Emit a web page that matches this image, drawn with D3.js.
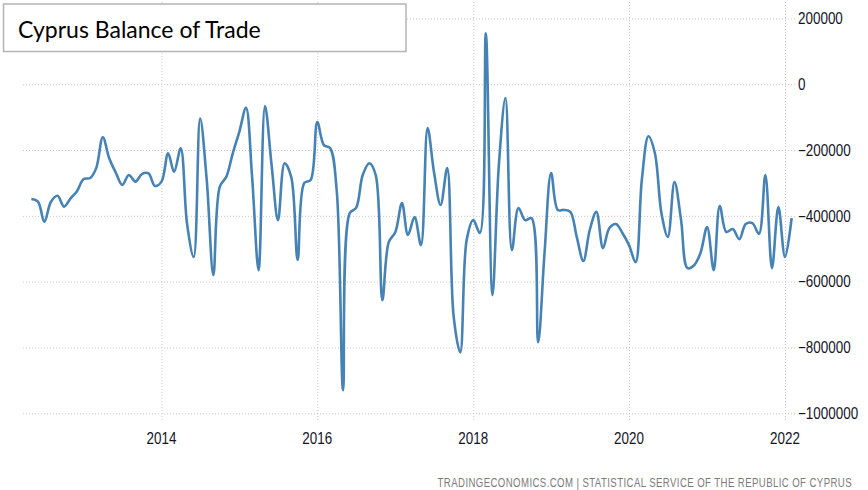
<!DOCTYPE html>
<html>
<head>
<meta charset="utf-8">
<script src="https://cdn.jsdelivr.net/npm/d3@7"></script>
<style>
  body { margin: 0; background: #fff; }
  .grid line { stroke: #c8c8c8; stroke-dasharray: 1,2; }
  .grid .domain { display: none; }
  .tick-label { font-family: "Liberation Sans", Arial, sans-serif; font-size: 16px; fill: #15151f; }
</style>
</head>
<body>
<div id="chart"></div>
<script>
// Monthly balance of trade, thousands of EUR, first month = May 2012
const startMonth = new Date(2012, 4, 1);
const balance2012 = [-349, -357, -418, -357, -339, -372, -347, -325];
const balance2013 = [-288, -285, -255, -161, -225, -269, -306, -276, -296, -273, -271, -309];
const balance2014 = [-296, -210, -266, -195, -425, -525, -104, -291, -580, -312, -281, -210];
const balance2015 = [-144, -72, -276, -565, -66, -246, -413, -240, -282, -534, -300, -291];
const balance2016 = [-115, -185, -194, -322, -930, -392, -376, -276, -240, -276, -656, -480];
const balance2017 = [-449, -361, -458, -404, -489, -133, -267, -367, -255, -705, -815, -474];
const balance2018 = [-413, -452, 155, -641, -246, -42, -504, -376, -413, -407, -784, -513];
const balance2019 = [-270, -382, -382, -388, -464, -537, -443, -388, -498, -437, -425, -452];
const balance2020 = [-489, -541, -291, -158, -209, -392, -464, -297, -413, -559, -550, -513];
const balance2021 = [-434, -565, -370, -449, -440, -471, -425, -422, -455, -276, -559, -373];
const balance2022 = [-525, -407];

const yTicks = [200000, 0, -200000, -400000, -600000, -800000, -1000000];
const xTickYears = [2014, 2016, 2018, 2020, 2022];

const titleText = "Cyprus Balance of Trade";
const sourceText = "TRADINGECONOMICS.COM | STATISTICAL SERVICE OF THE REPUBLIC OF CYPRUS";

const width = 868, height = 490;
const narrow = 0.84; // squeeze labels to look like a condensed face

const allValues = [].concat(balance2012, balance2013, balance2014, balance2015, balance2016,
  balance2017, balance2018, balance2019, balance2020, balance2021, balance2022);

const data = allValues.map((v, i) => ({
  date: new Date(startMonth.getFullYear(), startMonth.getMonth() + i, 1),
  value: v * 1000
}));

const svg = d3.select("#chart").append("svg")
  .attr("width", width)
  .attr("height", height);

// scales
const x = d3.scaleTime()
  .domain([new Date(2014, 0, 1), new Date(2022, 0, 1)])
  .range([161.5, 785]);
const y = d3.scaleLinear()
  .domain([-1000000, 200000])
  .range([413.3, 18.4]);

const plotLeft = 22, plotRight = 795, gridBottom = 420;

// horizontal grid
svg.append("g")
  .attr("class", "grid")
  .attr("transform", `translate(${plotRight},0)`)
  .call(d3.axisRight(y).tickValues(yTicks).tickSize(-(plotRight - plotLeft)).tickFormat(""));

// vertical grid
const xTickDates = xTickYears.map(yr => new Date(yr, 0, 1));
svg.append("g")
  .attr("class", "grid")
  .attr("transform", `translate(0,${gridBottom})`)
  .call(d3.axisBottom(x).tickValues(xTickDates).tickSize(-gridBottom).tickFormat(""));

// y labels on the right
svg.append("g")
  .selectAll("text")
  .data(yTicks)
  .join("text")
  .attr("class", "tick-label")
  .attr("transform", d => `translate(798,${y(d)}) scale(${narrow},1)`)
  .attr("dy", "0.36em")
  .text(d3.format("d"));

// x labels
svg.append("g")
  .selectAll("text")
  .data(xTickDates)
  .join("text")
  .attr("class", "tick-label")
  .attr("text-anchor", "middle")
  .attr("transform", d => `translate(${x(d)},444) scale(${narrow},1)`)
  .text(d3.timeFormat("%Y"));

// line
const line = d3.line()
  .x(d => x(d.date))
  .y(d => y(d.value))
  .curve(d3.curveCatmullRom.alpha(0.5));

svg.append("path")
  .datum(data)
  .attr("fill", "none")
  .attr("stroke", "#4682b4")
  .attr("stroke-width", 2.6)
  .attr("stroke-linejoin", "round")
  .attr("d", line);

// title box
svg.append("rect")
  .attr("x", 3.5).attr("y", 4)
  .attr("width", 402.5).attr("height", 47.5)
  .attr("fill", "#fff")
  .attr("stroke", "#b4b4b4")
  .attr("stroke-width", 1.5);

svg.append("text")
  .attr("x", 18)
  .attr("y", 37.5)
  .style("font-family", "Lato, 'Open Sans', sans-serif")
  .style("font-size", "23px")
  .style("fill", "#000")
  .text(titleText);

// source footer, squeezed then spaced out to the reference width
const footerScale = 0.8, footerWidth = 414;
const footer = svg.append("text")
  .attr("transform", `translate(852,487) scale(${footerScale},1)`)
  .attr("text-anchor", "end")
  .style("font-family", "'Liberation Sans', Arial, sans-serif")
  .style("font-size", "12px")
  .style("fill", "#7a7a7a")
  .text(sourceText);
const natural = footer.node().getComputedTextLength();
const spacing = Math.max(0, (footerWidth / footerScale - natural) / (sourceText.length - 1));
footer.style("letter-spacing", spacing + "px");
</script>
</body>
</html>
